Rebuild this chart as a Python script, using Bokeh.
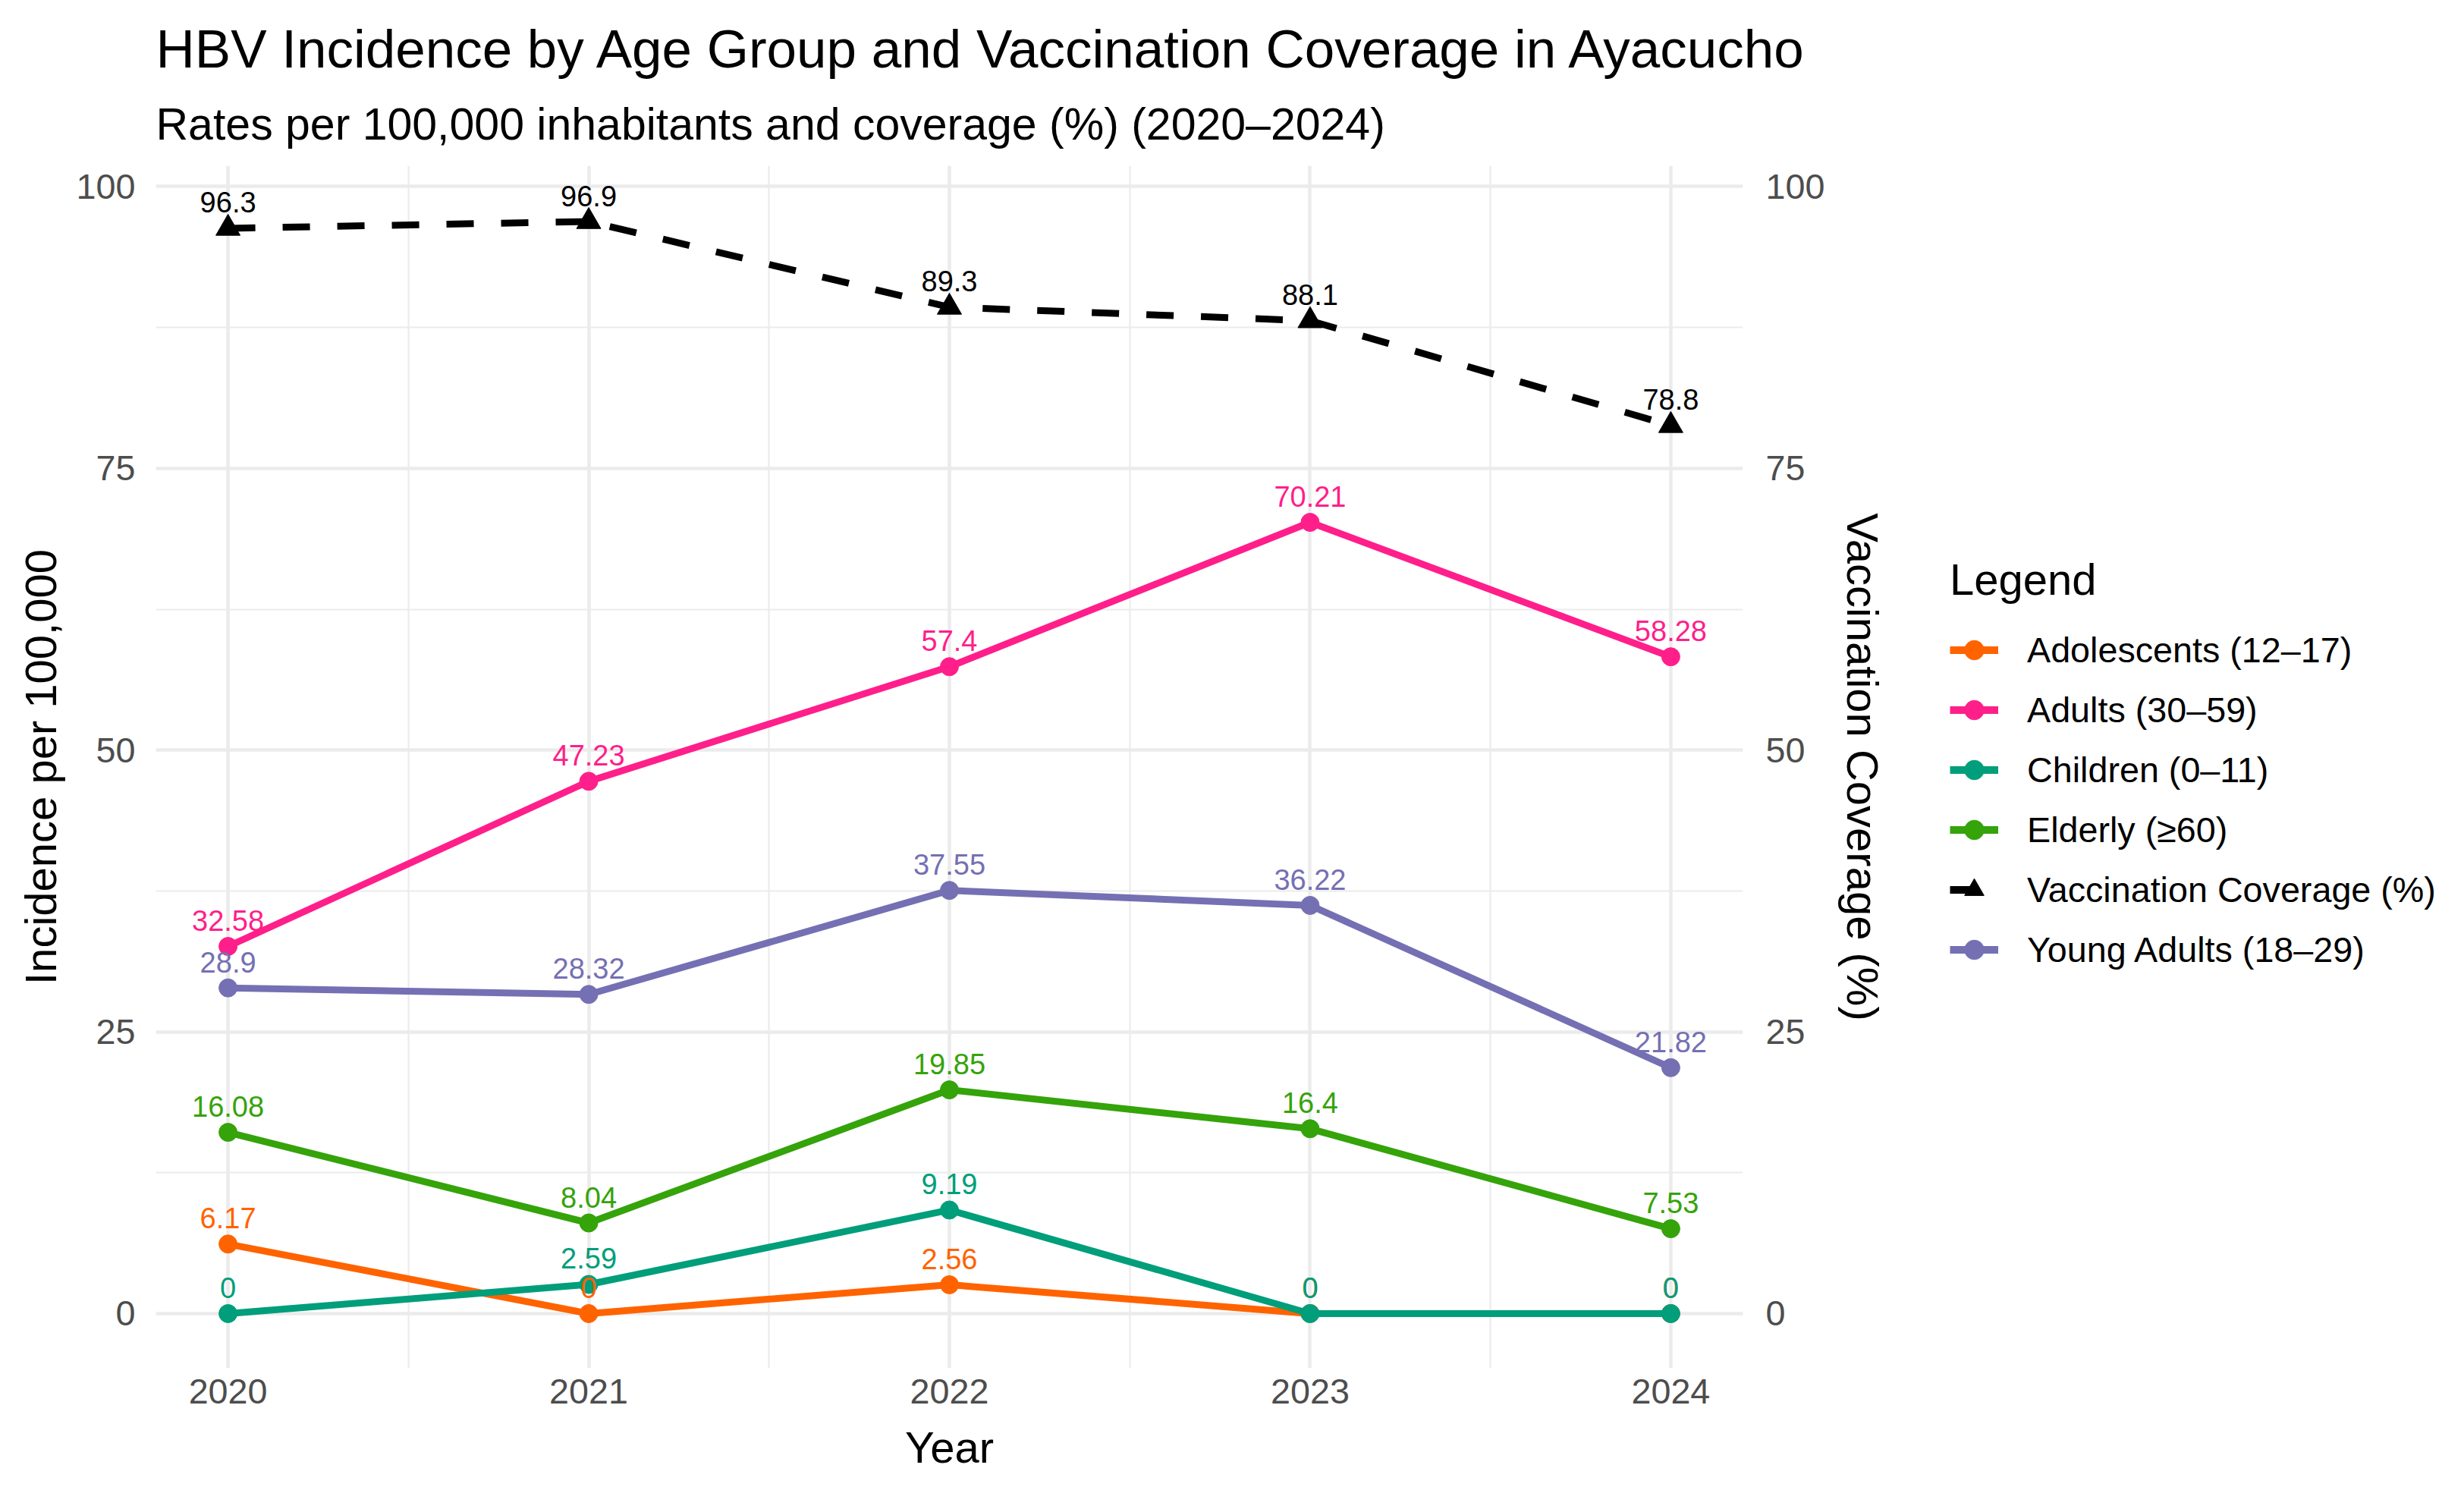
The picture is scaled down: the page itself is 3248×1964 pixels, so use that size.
from bokeh.plotting import figure
from bokeh.models import (LinearAxis, Range1d, FixedTicker, Legend, LegendItem,
                          Title, ColumnDataSource)
from bokeh.layouts import row
from bokeh.embed import file_html
from bokeh.resources import INLINE
from bokeh.core.properties import value

# ---- data ----
years = [2020, 2021, 2022, 2023, 2024]
adolescents = [6.17, 0, 2.56, 0, 0]
adults = [32.58, 47.23, 57.4, 70.21, 58.28]
children = [0, 2.59, 9.19, 0, 0]
elderly = [16.08, 8.04, 19.85, 16.4, 7.53]
young_adults = [28.9, 28.32, 37.55, 36.22, 21.82]
coverage = [96.3, 96.9, 89.3, 88.1, 78.8]

series_names = ["Adolescents (12\u201317)", "Adults (30\u201359)", "Children (0\u201311)",
                "Elderly (\u226560)", "Young Adults (18\u201329)"]
series_values = [adolescents, adults, children, elderly, young_adults]
series_colors = ["#FF6300", "#FF1F8A", "#009E7A", "#35A30A", "#7570B3"]
coverage_name = "Vaccination Coverage (%)"

x_ticks = [2020, 2021, 2022, 2023, 2024]
y_ticks = [0, 25, 50, 75, 100]

FONT = "Liberation Sans"

W, H = 3230, 1944
MW = 2520                      # main figure width, legend figure takes the rest
FL, FT, FW, FH = 205, 218, 2092, 1585

p = figure(width=MW, height=H, frame_width=FW, frame_height=FH,
           min_border_left=FL, min_border_top=FT,
           min_border_right=MW - FL - FW, min_border_bottom=H - FT - FH,
           x_range=Range1d(2019.8, 2024.2), y_range=Range1d(-4.85, 101.85),
           output_backend="svg", toolbar_location=None, title=None)
p.extra_y_ranges = {"cov": Range1d(-4.85, 101.85)}
p.outline_line_color = None
p.background_fill_color = "white"
p.border_fill_color = "white"

xt = FixedTicker(ticks=x_ticks, minor_ticks=[2019.5, 2020.5, 2021.5, 2022.5, 2023.5, 2024.5])
yt = FixedTicker(ticks=y_ticks, minor_ticks=[-12.5, 12.5, 37.5, 62.5, 87.5, 112.5])
p.xaxis.ticker = xt
p.yaxis.ticker = yt

for g in (p.xgrid, p.ygrid):
    g.grid_line_color = "#EBEBEB"
    g.grid_line_width = 4.5
    g.minor_grid_line_color = "#EBEBEB"
    g.minor_grid_line_width = 2.2

raxis = LinearAxis(y_range_name="cov", ticker=yt, axis_label="Vaccination Coverage (%)")
p.add_layout(raxis, "right")

for ax in (p.xaxis[0], p.yaxis[0], raxis):
    ax.axis_line_color = None
    ax.major_tick_line_color = None
    ax.minor_tick_line_color = None
    ax.major_tick_out = 0
    ax.major_tick_in = 0
    ax.major_label_text_font = FONT
    ax.major_label_text_font_size = "46.7px"
    ax.major_label_text_color = "#4D4D4D"
    ax.axis_label_text_font = FONT
    ax.axis_label_text_font_size = "58px"
    ax.axis_label_text_font_style = "normal"
    ax.axis_label_text_color = "black"

p.xaxis.axis_label = "Year"
p.yaxis[0].axis_label = "Incidence per 100,000"
p.xaxis.major_label_standoff = 10
p.xaxis.axis_label_standoff = 22
p.yaxis[0].major_label_standoff = 23
p.yaxis[0].axis_label_standoff = 12
raxis.major_label_standoff = 26
raxis.axis_label_standoff = 15

items = []
for name, vals, col in zip(series_names, series_values, series_colors):
    src = ColumnDataSource(dict(x=years, y=vals, t=[f"{v:g}" for v in vals]))
    p.line("x", "y", source=src, line_color=col, line_width=9, line_join="round")
    p.scatter("x", "y", source=src, marker="circle", size=24, fill_color=col, line_color=col)
    items.append((name, src, col))

csrc = ColumnDataSource(dict(x=years, y=coverage, t=[f"{v:g}" for v in coverage]))
p.line("x", "y", source=csrc, line_color="black", line_width=9, line_dash="36 36",
       y_range_name="cov")
p.scatter("x", "y", source=csrc, marker="triangle", size=32, fill_color="black",
          line_color="black", y_range_name="cov")

LBL = "38px"
for name, src, col in items:
    p.text("x", "y", text="t", source=src, text_font=value(FONT), text_font_size=value(LBL),
           text_color=col, text_align="center", text_baseline="alphabetic", y_offset=-34)
p.text("x", "y", text="t", source=csrc, text_font=value(FONT), text_font_size=value(LBL),
       text_color="black", text_align="center", text_baseline="alphabetic", y_offset=-34,
       y_range_name="cov")

sub = Title(text="Rates per 100,000 inhabitants and coverage (%) (2020\u20132024)",
            text_font=FONT, text_font_size="59px", text_font_style="normal", align="left",
            text_color="black", standoff=44)
p.add_layout(sub, "above")
main = Title(text="HBV Incidence by Age Group and Vaccination Coverage in Ayacucho",
             text_font=FONT, text_font_size="71px", text_font_style="normal", align="left",
             text_color="black", standoff=6)
p.add_layout(main, "above")

# ---- legend panel (separate figure to the right) ----
LW = W - MW
pl = figure(width=LW, height=H, x_range=Range1d(0, 1), y_range=Range1d(0, 1),
            x_axis_type=None, y_axis_type=None, min_border=0,
            output_backend="svg", toolbar_location=None, title=None)
pl.outline_line_color = None
pl.xgrid.visible = False
pl.ygrid.visible = False
pl.background_fill_color = "white"
pl.border_fill_color = "white"

# key renderers: placed outside the visible range (only the legend shows them)
off = dict(x=[-5], y=[-5])
leg_entries = []
for name, src, col in items:
    lr = pl.line(x=[-5, -4], y=[-5, -5], line_color=col, line_width=10)
    cr = pl.scatter(marker="circle", size=24, fill_color=col, line_color=col, **off)
    leg_entries.append((name, [lr, cr]))
lr = pl.line(x=[-5, -4], y=[-5, -5], line_color="black", line_width=10, line_dash="36 36")
cr = pl.scatter(marker="triangle", size=32, fill_color="black", line_color="black", **off)
leg_entries.append((coverage_name, [lr, cr]))
leg_entries.sort(key=lambda t: t[0])

legend = Legend(items=[LegendItem(label=n, renderers=rs) for n, rs in leg_entries],
                location=(50, 512), title="Legend",
                title_text_font=FONT, title_text_font_size="58px", title_text_font_style="normal",
                title_text_color="black", title_standoff=20,
                label_text_font=FONT, label_text_font_size="46.7px", label_text_color="black",
                glyph_width=64, glyph_height=79, label_height=79, spacing=0,
                label_standoff=38, padding=0, margin=0,
                border_line_color=None, background_fill_alpha=0)
pl.add_layout(legend, "center")

layout = row(p, pl)
open("out.html", "w").write(file_html(layout, INLINE))
